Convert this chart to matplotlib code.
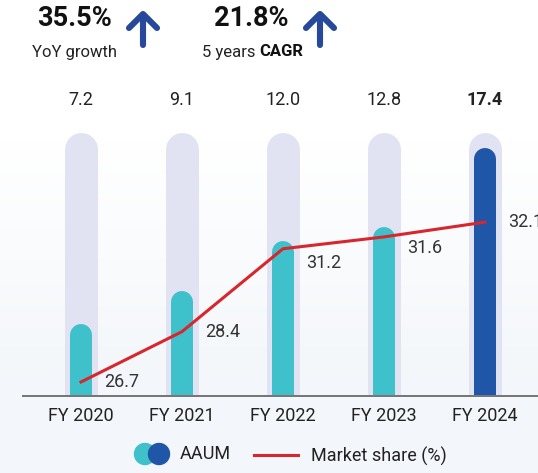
import numpy as np
import matplotlib
matplotlib.use("Agg")
import matplotlib.pyplot as plt
from matplotlib.patches import Circle

plt.rcParams['font.family'] = ['Roboto', 'DejaVu Sans']

# data
years = ['FY 2020', 'FY 2021', 'FY 2022', 'FY 2023', 'FY 2024']
aaum = [7.2, 9.1, 12.0, 12.8, 17.4]
market_share = [26.7, 28.4, 31.2, 31.6, 32.1]
yoy_growth = '35.5%'
cagr_5y = '21.8%'

TEAL = '#3fc1cb'
NAVY = '#1f56a8'
TRACK = '#e2e3f2'
RED = '#d8262e'
ARROW = '#27499b'
TEXT = '#222222'

W, H = 538, 473
fig = plt.figure(figsize=(W / 100, H / 100), dpi=100)

# soft background gradient
bg = fig.add_axes([0, 0, 1, 1], zorder=-5)
grad = np.linspace(0, 1, 256).reshape(-1, 1)
top_c = np.array([1.0, 1.0, 1.0])
bot_c = np.array([0.955, 0.968, 0.982])
img = top_c + (bot_c - top_c) * np.clip((grad - 0.3) / 0.5, 0, 1)[..., None]
bg.imshow(img.reshape(256, 1, 3), aspect='auto', extent=[0, 1, 0, 1])
bg.axis('off')

# main axes (pixel layout -> figure fraction)
px_left, px_right, px_top, px_bottom = 23, 538, 80, 396
ax = fig.add_axes([px_left / W, 1 - px_bottom / H,
                   (px_right - px_left) / W, (px_bottom - px_top) / H])
ax.patch.set_alpha(0)

x = np.arange(len(years))
ax.set_xlim(-0.574, 4.525)
ax.set_ylim(3.66, 21.98)

px2pt = 72 / 100
track_top = 18.0
for i, v in enumerate(aaum):
    ax.plot([x[i], x[i]], [0, track_top], color=TRACK, lw=33 * px2pt,
            solid_capstyle='round', zorder=1)
    ax.plot([x[i], x[i]], [0, v], color=NAVY if i == len(aaum) - 1 else TEAL,
            lw=22 * px2pt, solid_capstyle='round', zorder=2)
    ax.text(x[i], 0.937, f'{v:.1f}', transform=ax.get_xaxis_transform(),
            ha='center', va='center', fontsize=13, color=TEXT,
            fontweight='bold' if i == len(aaum) - 1 else 'normal')

for s in ['top', 'left', 'right']:
    ax.spines[s].set_visible(False)
ax.spines['bottom'].set_color('#777777')
ax.spines['bottom'].set_linewidth(2 * px2pt)
ax.set_xticks(x)
ax.set_xticklabels(years, fontsize=13, color=TEXT)
ax.tick_params(axis='x', length=0, pad=8)
ax.set_yticks([])

# market share line
ax2 = ax.twinx()
ax2.set_ylim(26.227, 36.9)
ax2.plot(x, market_share, color=RED, lw=2.2, zorder=5)
ax2.axis('off')
label_dy = [0, 0, -14, -11, 0]
for i, v in enumerate(market_share):
    ax2.annotate(f'{v:.1f}', (x[i], v), xytext=(17, label_dy[i] * px2pt),
                 textcoords='offset points', ha='left', va='center',
                 fontsize=13, color='#333333', annotation_clip=False)

# overlay for header and legend, in pixel coords
ov = fig.add_axes([0, 0, 1, 1], zorder=10)
ov.set_xlim(0, W)
ov.set_ylim(H, 0)
ov.axis('off')


def up_arrow(cx):
    ov.plot([cx, cx], [45, 15], color=ARROW, lw=4.4,
            solid_capstyle='round')
    ov.plot([cx - 14, cx, cx + 14], [28, 14, 28], color=ARROW, lw=4.4,
            solid_capstyle='round', solid_joinstyle='round')


ov.text(75, 19, yoy_growth, ha='center', va='center', fontsize=19.5,
        fontweight='bold', color='#111111')
ov.text(75, 52, 'YoY growth', ha='center', va='center', fontsize=12,
        color=TEXT)
up_arrow(143)

ov.text(251, 19, cagr_5y, ha='center', va='center', fontsize=19.5,
        fontweight='bold', color='#111111')
t1 = ov.text(202, 52, '5 years ', ha='left', va='center', fontsize=12,
             color=TEXT)
ov.annotate('CAGR', xy=(1, 0.5), xycoords=t1, ha='left', va='center',
            fontsize=12, fontweight='bold', color='#111111')
up_arrow(320)

# legend
ov.add_patch(Circle((145, 454), 10.5, color=TEAL, zorder=3))
ov.add_patch(Circle((159, 454), 10.5, color=NAVY, zorder=4))
ov.text(180, 454, 'AAUM', ha='left', va='center', fontsize=13, color=TEXT)
ov.plot([254, 298], [455, 455], color=RED, lw=2.2)
ov.text(311, 456, 'Market share (%)', ha='left', va='center', fontsize=13,
        color=TEXT)

fig.savefig('out.png', dpi=100)
